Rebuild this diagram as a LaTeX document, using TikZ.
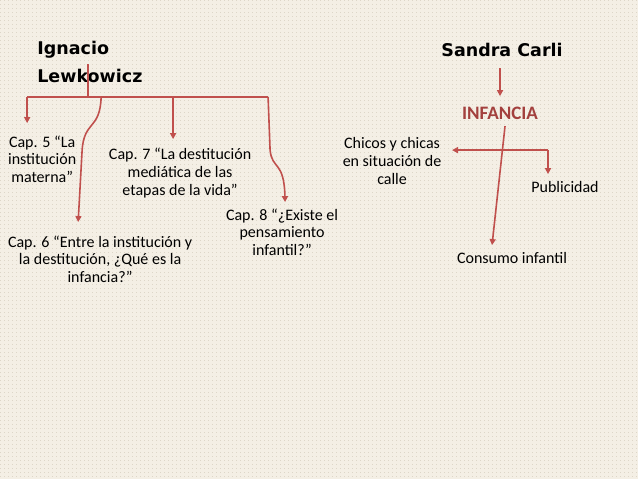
\documentclass[tikz,border=0pt]{standalone}
\usepackage{fontspec}
\setmainfont{Carlito}
\newfontfamily\titlefont{DejaVu Sans}
\usetikzlibrary{arrows.meta}
\definecolor{bg}{HTML}{F4EFE5}
\definecolor{dots}{HTML}{DDD6C8}
\definecolor{arr}{HTML}{C0504D}
\definecolor{inf}{HTML}{A3403E}
\tikzset{
  conn/.style={draw=arr,line width=1.6pt,-{Triangle[length=6pt,width=6pt]}},
  plain/.style={draw=arr,line width=1.6pt},
  txt/.style={font=\fontsize{16}{17.8}\selectfont,align=center,inner sep=0pt},
  ttl/.style={font=\titlefont\bfseries\fontsize{17.5}{28}\selectfont,align=left,inner sep=0pt},
}
\begin{document}
\begin{tikzpicture}[x=1pt,y=-1pt]
\fill[bg] (0,0) rectangle (638,479);
\foreach \i in {0,4,...,636} \draw[dots,line width=0.3pt,dash pattern=on 0.6pt off 3.4pt] (\i,0) -- (\i,479);
\useasboundingbox (0,0) rectangle (638,479);
\node[ttl,anchor=west] (il) at (37,62) {Ignacio\\Lewkowicz};
\coordinate (ilb) at (88,64);
\coordinate (hl) at (88,97);
\coordinate (l5) at (27,97);
\coordinate (r8) at (268,97);
\node[txt] (c5) at (42,159) {Cap. 5 “La\\institución\\materna”};
\node[txt] (c7) at (180,173) {Cap. 7 “La destitución\\mediática de las\\etapas de la vida”};
\node[txt] (c6) at (100,259) {Cap. 6 “Entre la institución y\\la destitución, ¿Qué es la\\infancia?”};
\node[txt] (c8) at (282,232) {Cap. 8 “¿Existe el\\pensamiento\\infantil?”};
\draw[plain] (ilb) -- (hl);
\draw[plain] (l5) -- (r8);
\draw[conn] (l5) -- (27,123);
\draw[conn] (173,97) -- (173,139);
\draw[conn] (101,97) .. controls (100,130) and (84,120) .. (82,150) -- (78,222);
\draw[conn] (r8) -- (270,150) .. controls (272,170) and (284,160) .. (285,202);
\node[ttl,anchor=center] (sc) at (502,50) {Sandra Carli};
\node[font=\bfseries\fontsize{19}{20}\selectfont,text=inf,inner sep=0pt] (in) at (500,113) {INFANCIA};
\draw[conn] (500,68) -- (500,96);
\node[txt] (ch) at (392,161) {Chicos y chicas\\en situación de\\calle};
\node[txt] (pu) at (565,187) {Publicidad};
\node[txt] (co) at (512,258) {Consumo infantil};
\draw[conn] (505,126) -- (492,245);
\draw[conn] (548,150) -- (452,150);
\draw[conn] (548,150) -- (548,174);
\end{tikzpicture}
\end{document}
